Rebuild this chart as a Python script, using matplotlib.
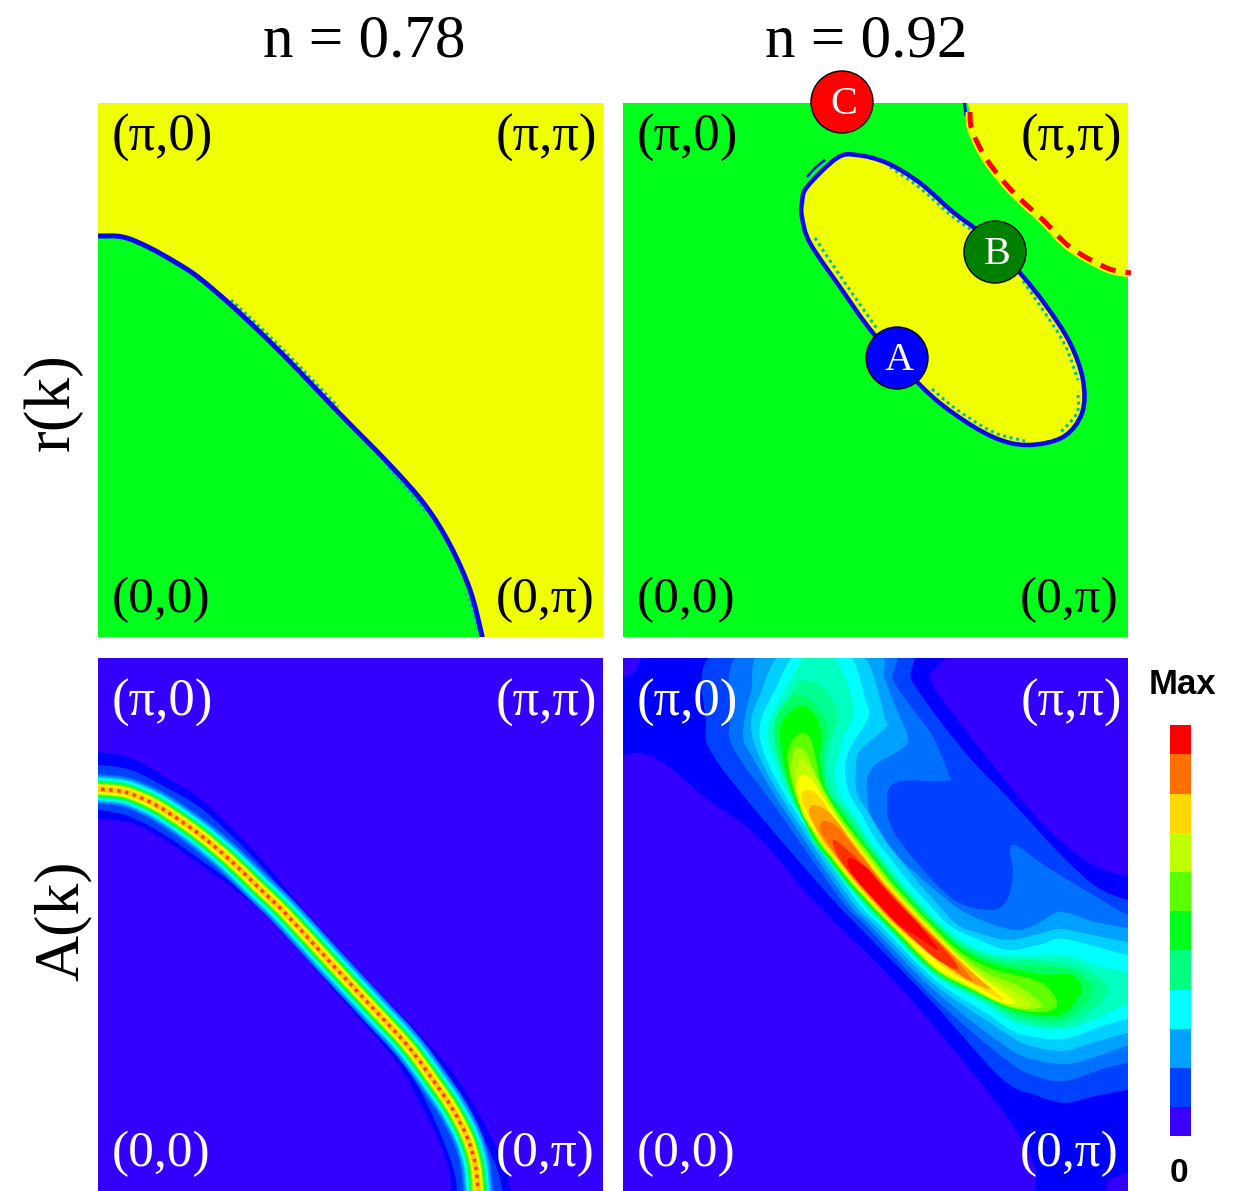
import matplotlib
matplotlib.use("Agg")
import matplotlib.pyplot as plt
from matplotlib.colors import ListedColormap
from matplotlib.patches import Circle, PathPatch, Polygon
from matplotlib.path import Path

W, H = 1242, 1191
PANELS = [(98, 603, 103, 637), (623, 1128, 103, 637), (98, 603, 658, 1191), (623, 1128, 658, 1191)]
LABEL_DY = [35, 35, 45, 45]

GREEN = "#00ff1a"
YELLOW = "#f0ff00"
BG = "#3300ff"
LINE = "#0808ec"
FRINGE = "#00b8b0"

cbar_colors = ["#3a00ff", "#0040ff", "#00a0ff", "#00ffff", "#00ff80", "#00ff1a",
               "#5aff00", "#c0ff00", "#ffd800", "#ff7000", "#ff0000"]
cbar_edges = [1136, 1107, 1068, 1029, 990, 950, 911, 872, 833, 794, 754, 725]

# fermi line n=0.78
fs_left = [(85, 236), (98, 236), (123, 237), (148, 247), (175, 262), (198, 277), (231, 305), (265, 337),
           (298, 370), (338, 412), (390, 465), (425, 505), (450, 545), (470, 590), (482, 636), (484, 650)]
fs_left_fringe = [[(231, 300), (265, 332), (298, 365), (338, 407)],
                  [(388, 468), (405, 487), (425, 511)],
                  [(466, 593), (473, 612), (478, 632)]]
# fermi pocket n=0.92
pocket = [(802, 203), (807, 187), (837, 158), (857, 155), (887, 163), (920, 183), (953, 212),
          (983, 235), (1020, 273), (1047, 307), (1070, 343), (1083, 380), (1082, 413), (1063, 437),
          (1027, 445), (993, 437), (953, 413), (920, 385), (873, 333), (840, 287), (810, 243), (802, 217)]
pocket_fringe = [[(815, 238), (845, 283), (878, 330)],
                 [(890, 167), (920, 188), (953, 217), (975, 232)],
                 [(1023, 281), (1043, 310), (1065, 345), (1078, 380)],
                 [(932, 389), (956, 409), (993, 432), (1025, 441)],
                 [(1078, 395), (1077, 413), (1060, 433)]]
corner = [(964, 95), (968, 103), (973, 128), (988, 158), (1014, 190), (1044, 218), (1071, 245), (1107, 266), (1140, 272)]
corner_red = [(970, 112), (972, 130), (987, 160), (1013, 192), (1043, 220), (1070, 247), (1107, 268), (1131, 273)]

# A(k) n=0.78 ridge
ridge_left = [(85, 788), (98, 789), (125, 792), (150, 802), (169, 813), (199, 834), (230, 860), (258, 887),
              (285, 913), (330, 962), (370, 1005), (407, 1045), (433, 1080), (452, 1108), (467, 1137),
              (475, 1163), (478, 1190), (479, 1205)]
ridge_colors = ["#0070ff", "#00a0ff", "#00d0ff", "#00ffff", "#00ffc0", "#00ff80",
                "#00ff30", "#50ff00", "#b0ff00", "#ffff00", "#ffd000"]
ridge_widths = [30, 27, 24, 22, 19.5, 17, 15, 13, 11, 9, 6]
# the two outer levels change width along the ridge
band_blue = [(60, 752), (98, 752), (131, 758), (165, 777), (198, 797), (231, 827), (265, 863), (298, 903),
             (360, 972), (425, 1040), (460, 1083), (490, 1135), (507, 1175), (516, 1240),
             (456, 1240), (450, 1175), (438, 1140), (420, 1103), (395, 1060), (340, 997), (271, 920), (231, 887),
             (198, 863), (165, 840), (131, 823), (98, 819), (60, 819)]
band_0040 = [(60, 765), (98, 765), (131, 770), (165, 787), (198, 806), (231, 835), (265, 870), (298, 908),
             (360, 977), (425, 1045), (458, 1092), (484, 1140), (500, 1180), (506, 1240),
             (461, 1240), (456, 1180), (443, 1140), (425, 1100), (400, 1058), (340, 992), (271, 915), (231, 882),
             (198, 858), (165, 835), (131, 817), (98, 810), (60, 810)]

# A(k) n=0.92, filled level outlines
levels_right = [
    ("#0000ff", [(600, 660), (640, 650), (922, 650), (930, 680), (963, 727), (997, 770), (1030, 810), (1063, 843),
                 (1097, 867), (1128, 876), (1160, 880), (1160, 1180), (1112, 1178), (1100, 1200), (1041, 1200), (1035, 1167),
                 (1018, 1133), (984, 1087), (900, 987), (813, 900), (756, 835), (706, 798), (666, 765),
                 (640, 753), (600, 750)]),
    ("#0040ff", [(899, 650), (913, 683), (963, 750), (1013, 803), (1063, 857), (1097, 887), (1128, 900), (1160, 906),
                 (1160, 1086), (1128, 1090), (1095, 1096), (1065, 1103), (1035, 1095), (1001, 1078), (934, 1004), (857, 925), (833, 900), (756, 811),
                 (713, 755), (706, 725), (720, 650)]),
    ("#0070ff", [(885, 650), (893, 680), (912, 708), (932, 735), (948, 773), (947, 781), (897, 782), (887, 803),
                 (897, 837), (950, 897), (990, 910), (1007, 900), (1013, 873), (1010, 850), (1017, 846), (1047, 867),
                 (1090, 893), (1128, 915), (1160, 925), (1160, 1058), (1128, 1063), (1102, 1069), (1065, 1081), (1035, 1076), (1005, 1059),
                 (934, 998), (865, 925), (841, 900), (776, 808), (735, 751), (730, 718), (745, 650)]),
    ("#00a0ff", [(873, 650), (885, 680), (897, 710), (908, 738), (900, 750), (873, 767), (867, 790), (880, 837), (947, 900),
                 (981, 920), (1015, 930), (1035, 925), (1055, 913), (1068, 913), (1095, 922), (1128, 928), (1160, 932),
                 (1160, 1040), (1128, 1046), (1092, 1058), (1065, 1064), (1028, 1058), (998, 1041), (934, 990), (870, 925), (846, 900),
                 (783, 808), (753, 758), (743, 735), (751, 691), (766, 650)]),
    ("#00d0ff", [(858, 650), (885, 718), (885, 728), (860, 751), (856, 768), (857, 793), (870, 815), (885, 840), (899, 858),
                 (916, 880), (934, 900), (958, 925), (985, 935), (1008, 940), (1035, 935), (1058, 929), (1078, 932), (1128, 942), (1160, 945),
                 (1160, 1028), (1128, 1033), (1088, 1044), (1062, 1051), (1025, 1044), (995, 1026), (934, 984), (875, 925), (851, 900),
                 (788, 808), (760, 758), (751, 725), (760, 695), (786, 650)]),
    ("#00ffff", [(846, 650), (866, 701), (868, 718), (850, 748), (845, 771), (850, 795), (862, 815), (876, 840), (890, 858),
                 (907, 880), (925, 900), (949, 925), (975, 938), (1008, 950), (1042, 944), (1065, 939), (1128, 955), (1160, 958),
                 (1160, 1014), (1128, 1019), (1102, 1026), (1062, 1039), (1018, 1033), (988, 1014), (934, 979), (880, 925), (856, 900),
                 (793, 808), (766, 758), (760, 725), (775, 690), (800, 650)]),
    ("#00ffc0", [(830, 650), (850, 691), (853, 715), (843, 738), (836, 768), (840, 795), (856, 818), (869, 840), (883, 858),
                 (900, 880), (918, 900), (942, 925), (970, 945), (1001, 955), (1062, 955), (1095, 965), (1128, 972), (1160, 975),
                 (1160, 995), (1128, 1004), (1102, 1016), (1065, 1029), (1018, 1024), (985, 1004), (934, 975), (884, 925), (860, 900),
                 (796, 808), (773, 758), (768, 725), (785, 690), (810, 650)]),
    ("#00ff90", [(803, 681), (823, 688), (838, 715), (830, 745), (827, 768), (834, 795), (850, 815), (867, 840), (880, 858),
                 (897, 880), (915, 900), (939, 925), (965, 945), (1000, 958), (1060, 962), (1095, 975), (1107, 989), (1095, 1008),
                 (1062, 1025), (1020, 1020), (985, 1001), (934, 973), (885, 925), (861, 900), (843, 880), (826, 858), (812, 840),
                 (800, 810), (780, 758), (775, 725), (790, 695)]),
    ("#00ff60", [(800, 695), (815, 705), (828, 725), (824, 750), (824, 775), (830, 795), (846, 815), (864, 840), (878, 858),
                 (895, 880), (912, 900), (937, 925), (962, 946), (1000, 962), (1065, 968), (1085, 978), (1094, 989), (1085, 1005),
                 (1060, 1020), (1020, 1016), (985, 999), (934, 972), (887, 925), (863, 900), (845, 880), (828, 858), (814, 840),
                 (783, 772), (774, 730), (783, 705)]),
    ("#00ff00", [(803, 706), (815, 715), (822, 735), (820, 758), (826, 790), (843, 815), (861, 840), (875, 858), (892, 880),
                 (910, 900), (934, 925), (960, 948), (990, 963), (1040, 974), (1068, 974), (1080, 982), (1080, 995), (1060, 1015),
                 (1020, 1012), (985, 997), (934, 970), (888, 925), (864, 900), (846, 880), (829, 858), (815, 840), (795, 802),
                 (785, 770), (780, 730), (790, 712)]),
    ("#60ff00", [(800, 733), (810, 738), (816, 760), (822, 785), (840, 815), (859, 840), (873, 858), (890, 880), (908, 900),
                 (932, 925), (958, 950), (990, 968), (1035, 980), (1050, 990), (1057, 1004), (1045, 1012), (1012, 1008),
                 (968, 988), (934, 969), (890, 925), (866, 900), (848, 880), (831, 858), (817, 840), (797, 800), (788, 765), (790, 745)]),
    ("#a0ff00", [(796, 748), (806, 753), (818, 780), (838, 815), (857, 840), (871, 858), (888, 880), (906, 900), (930, 925),
                 (955, 950), (985, 972), (1020, 987), (1042, 1006), (1010, 1007), (968, 987), (934, 968), (891, 925), (867, 900),
                 (849, 880), (832, 858), (818, 840), (800, 805), (790, 770)]),
    ("#c0ff00", [(800, 761), (811, 767), (822, 790), (836, 815), (855, 840), (869, 858), (886, 880), (904, 900), (928, 925),
                 (953, 950), (982, 974), (1015, 992), (1032, 1006), (1005, 1004), (968, 986), (934, 967), (892, 925), (868, 900),
                 (850, 880), (833, 858), (819, 840), (803, 815), (795, 785)]),
    ("#ffff00", [(801, 775), (812, 780), (825, 800), (835, 815), (853, 840), (867, 858), (884, 880), (902, 900), (926, 925),
                 (951, 950), (980, 976), (1005, 993), (1016, 1004), (995, 1000), (968, 985), (934, 966), (893, 925), (869, 900),
                 (851, 880), (834, 858), (820, 840), (805, 815), (797, 790)]),
    ("#ffd800", [(805, 790), (818, 795), (832, 815), (852, 840), (866, 858), (883, 880), (901, 900), (925, 925), (950, 950),
                 (978, 977), (1003, 999), (980, 988), (945, 968), (894, 925), (870, 900), (852, 880), (835, 858), (821, 840),
                 (808, 815), (801, 799)]),
    ("#ffa000", [(813, 805), (826, 810), (840, 825), (850, 840), (864, 858), (881, 880), (899, 900), (923, 925), (948, 950),
                 (975, 975), (990, 989), (972, 982), (945, 965), (896, 925), (872, 900), (854, 880), (837, 858), (823, 840),
                 (812, 820), (809, 811)]),
    ("#ff7000", [(823, 821), (835, 825), (849, 840), (863, 858), (880, 880), (898, 900), (922, 925), (947, 950), (973, 981),
                 (950, 968), (925, 947), (897, 925), (873, 900), (855, 880), (838, 858), (826, 840), (820, 830)]),
    ("#ff3000", [(833, 840), (850, 852), (878, 880), (896, 900), (920, 925), (945, 950), (958, 969), (935, 958), (898, 925),
                 (874, 900), (856, 880), (839, 858)]),
    ("#ff0000", [(850, 858), (867, 868), (877, 880), (895, 900), (919, 925), (938, 950), (915, 935), (899, 925), (875, 900),
                 (857, 880), (848, 866)]),
]
corner_dots = [[(623, 675), (634, 672), (641, 658), (641, 650), (615, 650)],
               [(1135, 1174), (1118, 1176), (1110, 1184), (1110, 1200), (1135, 1200)]]

markers = [("A", 897, 358, "#0000ff"), ("B", 995, 252, "#008000"), ("C", 842, 102, "#ff0000")]


def smooth(pts, closed=False):
    # catmull-rom through the read points, written as bezier segments for Path
    n = len(pts)
    verts = [pts[0]]
    codes = [Path.MOVETO]
    last = n if closed else n - 1
    for i in range(last):
        if closed:
            p0, p1, p2, p3 = pts[i - 1], pts[i], pts[(i + 1) % n], pts[(i + 2) % n]
        else:
            p0, p1, p2, p3 = pts[max(i - 1, 0)], pts[i], pts[i + 1], pts[min(i + 2, n - 1)]
        c1 = (p1[0] + (p2[0] - p0[0]) / 6, p1[1] + (p2[1] - p0[1]) / 6)
        c2 = (p2[0] - (p3[0] - p1[0]) / 6, p2[1] - (p3[1] - p1[1]) / 6)
        verts += [c1, c2, p2]
        codes += [Path.CURVE4, Path.CURVE4, Path.CURVE4]
    return Path(verts, codes)


def px(v):
    return v * 72 / 100


def stroke(ax, pts, color, width, **kw):
    ax.add_patch(PathPatch(smooth(pts), fill=False, edgecolor=color, lw=px(width), capstyle="butt", **kw))


def make_panel(fig, box):
    x0, x1, y0, y1 = box
    ax = fig.add_axes([x0 / W, 1 - y1 / H, (x1 - x0) / W, (y1 - y0) / H])
    ax.set_xlim(x0, x1)
    ax.set_ylim(y1, y0)
    ax.axis("off")
    return ax


fig = plt.figure(figsize=(W / 100, H / 100), dpi=100)
axes = [make_panel(fig, b) for b in PANELS]

# r(k) n=0.78
ax = axes[0]
ax.add_patch(Polygon([(90, 90), (610, 90), (610, 640), (90, 640)], color=YELLOW, lw=0))
ax.add_patch(Polygon(fs_left + [(85, 650)], closed=True, color=GREEN, lw=0))
ax.add_patch(PathPatch(smooth(fs_left), facecolor=GREEN, lw=0))
for pts in fs_left_fringe:
    stroke(ax, pts, FRINGE, 3, linestyle=(0, (1, 1)))
stroke(ax, fs_left, LINE, 5)

# r(k) n=0.92
ax = axes[1]
ax.add_patch(Polygon([(610, 90), (1140, 90), (1140, 650), (610, 650)], color=GREEN, lw=0))
ax.add_patch(PathPatch(smooth(pocket, closed=True), facecolor=YELLOW, lw=0))
for pts in pocket_fringe:
    stroke(ax, pts, FRINGE, 3, linestyle=(0, (1, 1.2)))
ax.add_patch(PathPatch(smooth(pocket, closed=True), fill=False, edgecolor=LINE, lw=px(4.5)))
stroke(ax, [(807, 177), (815, 168), (825, 160)], LINE, 2.5)
ax.add_patch(PathPatch(smooth(corner), facecolor=YELLOW, lw=0))
ax.add_patch(Polygon(corner + [(1140, 90)], closed=True, color=YELLOW, lw=0))
stroke(ax, [(964, 100), (965, 108), (966, 116)], LINE, 3)
stroke(ax, corner_red, YELLOW, 9)
ax.add_patch(PathPatch(smooth(corner_red), fill=False, edgecolor="#ff0000", lw=px(5),
                       linestyle=(0, (3.2, 2)), capstyle="butt", clip_on=False))

# A(k) n=0.78
ax = axes[2]
ax.add_patch(Polygon([(90, 650), (610, 650), (610, 1200), (90, 1200)], color=BG, lw=0))
ax.add_patch(PathPatch(smooth(band_blue, closed=True), facecolor="#0000ff", lw=0))
ax.add_patch(PathPatch(smooth(band_0040, closed=True), facecolor="#0040ff", lw=0))
for c, w in zip(ridge_colors, ridge_widths):
    stroke(ax, ridge_left, c, w)
ax.add_patch(PathPatch(smooth(ridge_left), fill=False, edgecolor="#ff4000", lw=px(3.5), linestyle=(0, (1, 1.3))))

# A(k) n=0.92
ax = axes[3]
ax.add_patch(Polygon([(610, 650), (1160, 650), (1160, 1200), (610, 1200)], color=BG, lw=0))
for c, pts in levels_right:
    ax.add_patch(PathPatch(smooth(pts, closed=True), facecolor=c, lw=0))
for pts in corner_dots:
    ax.add_patch(PathPatch(smooth(pts, closed=True), facecolor=BG, lw=0))

# overlay for text and markers, in pixels
top = fig.add_axes([0, 0, 1, 1], zorder=5)
top.set_xlim(0, W)
top.set_ylim(H, 0)
top.axis("off")
top.patch.set_alpha(0)

serif = "Liberation Serif"
sans = "Liberation Sans"
top.text(364, 42, "n = 0.78", family=serif, size=44, ha="center", va="center")
top.text(866, 42, "n = 0.92", family=serif, size=44, ha="center", va="center")
top.text(53, 402, "r(k)", family=serif, size=47, rotation=90, ha="center", va="center")
top.text(63, 921, "A(k)", family=serif, size=46, rotation=90, ha="center", va="center")

for (x0, x1, y0, y1), col, dy in zip(PANELS, ["black", "black", "white", "white"], LABEL_DY):
    top.text(x0 + 14, y0 + dy, "(π,0)", family=serif, size=38, color=col, ha="left", va="center")
    top.text(x1 - 6, y0 + dy, "(π,π)", family=serif, size=38, color=col, ha="right", va="center")
    top.text(x0 + 14, y1 - 37, "(0,0)", family=serif, size=37, color=col, ha="left", va="center")
    top.text(x1 - 9, y1 - 37, "(0,π)", family=serif, size=37, color=col, ha="right", va="center")

for name, x, y, c in markers:
    top.add_patch(Circle((x, y), 31, facecolor=c, edgecolor="black", lw=1))
    top.text(x + 2, y + 2, name, family=serif, size=29, color="white", ha="center", va="center")

top.text(1182, 684, "Max", family=sans, weight="bold", size=25, ha="center", va="center")
top.text(1179, 1174, "0", family=sans, weight="bold", size=24, ha="center", va="center")

cb = fig.add_axes([1170 / W, 1 - 1136 / H, 21 / W, 411 / H], zorder=4)
cb.pcolormesh([0, 1], cbar_edges, [[i] for i in range(len(cbar_colors))], cmap=ListedColormap(cbar_colors))
cb.set_ylim(1136, 725)
cb.axis("off")

fig.savefig("out.png", dpi=100)
